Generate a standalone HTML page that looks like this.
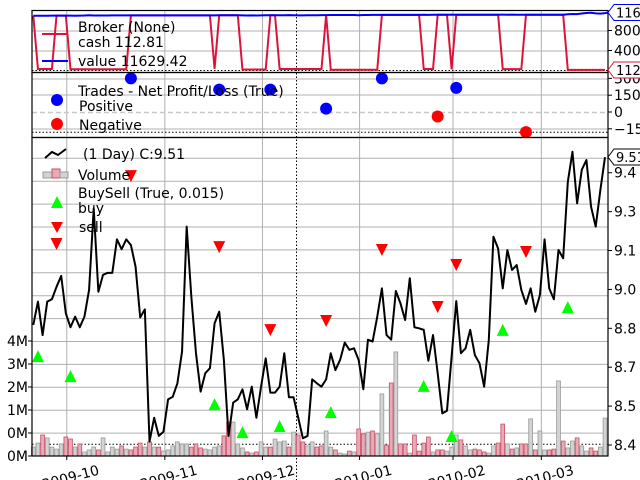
<!DOCTYPE html>
<html><head><meta charset="utf-8">
<style>
html,body{margin:0;padding:0;background:#fff;width:640px;height:480px;overflow:hidden;}
svg{display:block;font-family:"DejaVu Sans","Liberation Sans",sans-serif;}
</style></head>
<body>
<svg id="chart" width="640" height="480" viewBox="0 0 640 480" xmlns="http://www.w3.org/2000/svg"></svg>
<script>
const closes = [8.863,8.953,8.824,8.953,8.962,9.010,9.052,8.908,8.854,8.895,8.854,8.895,8.998,9.313,8.991,9.056,9.064,9.064,9.193,9.155,9.193,9.171,9.088,8.892,8.923,8.413,8.505,8.435,8.451,8.576,8.586,8.638,8.760,9.242,
8.972,8.754,8.606,8.677,8.696,8.869,8.914,8.728,8.435,8.563,8.576,8.615,8.538,8.625,8.505,8.625,8.734,8.602,8.602,8.625,8.754,8.584,8.584,8.505,8.426,8.435,8.653,8.638,8.625,8.653,8.754,8.689,
8.728,8.795,8.767,8.773,8.728,8.615,8.806,8.799,8.895,9.004,8.824,8.806,8.994,8.946,8.882,9.043,8.854,8.850,8.844,8.725,8.824,8.677,8.522,8.532,8.741,8.955,8.754,8.773,8.844,8.747,8.715,8.625,
8.805,9.203,9.158,9.004,9.152,9.075,9.094,8.998,8.944,9.004,8.914,8.979,9.193,9.004,8.962,9.152,9.120,9.415,9.531,9.332,9.461,9.499,9.319,9.242,9.383,9.51];
const volumes = [0.31,0.45,0.73,0.63,0.31,0.24,0.42,0.66,0.59,0.31,0.42,0.14,0.21,0.31,0.21,0.63,0.14,0.31,0.24,0.35,0.24,0.21,0.31,0.45,0.31,0.49,0.31,0.31,0.17,0.21,0.35,0.49,0.42,0.42,
0.31,0.42,0.28,0.24,0.21,0.31,0.35,0.70,1.18,1.18,0.42,0.28,0.14,0.10,0.14,0.49,0.31,0.31,0.59,0.49,0.52,0.31,0.83,0.73,0.49,0.35,0.49,0.31,0.35,0.87,0.31,0.21,
0.10,0.07,0.17,0.14,0.94,0.77,0.83,0.87,0.77,2.16,0.38,2.54,3.62,0.42,0.42,0.10,0.73,0.17,0.45,0.66,0.14,0.21,0.21,0.17,0.31,0.73,0.56,0.35,0.21,0.24,0.21,0.14,
0.10,0.35,0.45,1.11,0.42,0.24,0.28,0.42,0.42,1.29,0.21,0.87,0.21,0.21,0.24,2.61,0.52,0.28,0.52,0.63,0.35,0.17,0.28,0.17,0.31,1.32];
const cash = [10950,300,300,300,300,10980,10980,10980,250,250,250,250,250,250,250,250,250,250,250,250,250,
11020,11020,11020,11020,11020,11020,11020,11020,11020,11020,11020,11020,11020,11020,11020,11020,11020,11020,350,
11040,11040,11040,11040,11040,200,200,200,200,200,200,11050,11050,300,300,300,300,300,300,300,300,300,300,11080,
150,150,150,150,150,150,150,150,150,150,150,11130,11130,11130,11130,11130,11130,11130,11130,11130,300,300,300,
11150,11150,11150,250,11160,11160,11160,11160,11160,11160,11160,11160,11160,11160,280,280,280,280,280,
11140,11140,11140,11140,11140,11140,11140,11140,11140,112.81,112.81,112.81,112.81,112.81,112.81,112.81,112.81,112.81];
const value = [10950,10960,10940,10960,10970,10980,10980,10980,10970,10960,10970,10990,11050,10990,11000,11010,11010,11030,11020,11030,11020,
11020,11020,11020,11020,11020,11020,11020,11020,11020,11020,11020,11020,11020,11020,11020,11020,11020,11020,11030,
11040,11040,11040,11040,11040,11030,11010,11030,11000,11030,11050,11050,11050,11040,11050,11080,11060,11030,11020,11060,11060,11060,11080,11080,
11090,11090,11100,11100,11100,11090,11060,11100,11100,11120,11130,11130,11130,11130,11130,11130,11130,11130,11130,11130,11140,11120,11150,
11150,11150,11150,11170,11160,11160,11160,11160,11160,11160,11160,11160,11160,11160,11170,11160,11170,11150,11140,
11140,11140,11140,11140,11140,11140,11140,11140,11140,11250,11310,11270,11410,11500,11560,11420,11380,11480,11629];
const buyIdx = [1,8,39,45,53,64,84,90,101,115];
const buyPrice = [8.739,8.662,8.554,8.446,8.469,8.523,8.624,8.431,8.840,8.928];
const sellIdx = [5,21,40,51,63,75,87,91,106];
const sellPrice = [9.179,9.441,9.167,8.847,8.882,9.156,8.936,9.098,9.148];
const tradeIdx = [21,40,51,63,75,91,87,106];
const tradePnl = [300,200,200,30,300,215,-40,-180];
const monthIdx = [7.2,28.3,49.3,70.2,90.3,109.3];
const monthLabels = ["2009-10","2009-11","2009-12","2010-01","2010-02","2010-03"];
const priceTicks = [8.4,8.55,8.7,8.85,9.0,9.15,9.3,9.45];
const priceTickLabels = ["8.4","8.5","8.7","8.8","9.0","9.1","9.3","9.4"];
const volTicks = [0,0.8,1.6,2.4,3.2,4.0];
const volTickLabels = ["0M","0M","1M","2M","3M","4M"];
const brokerTicks = [4000,8000];
const brokerTickLabels = ["4000","8000"];
const tradeTicks = [-150,0,150,300];
const tradeTickLabels = ["\u2212150","0","150","300"];

const NS="http://www.w3.org/2000/svg";
const svg=document.getElementById('chart');
function mk(tag,attrs,parent){const e=document.createElementNS(NS,tag);for(const k in attrs)e.setAttribute(k,attrs[k]);(parent||svg).appendChild(e);return e;}
const L=32,R=608;
const xs=i=>33.3+i*(R-3-33.3)/(closes.length-1);
const py=p=>445-(p-8.4)*259.3;
const vy=v=>456-v*28.75;
const by=v=>70.5-v*0.005;
const ty=v=>112-v*16.8/150;

const g=mk('g',{});


monthIdx.forEach(m=>{mk('line',{x1:xs(m),x2:xs(m),y1:10,y2:456,stroke:'#b0b0b0','stroke-width':1},g);});
for(let k=1;k<=13;k++){const y=456-k*22.9;mk('line',{x1:L,x2:R,y1:y,y2:y,stroke:'#b0b0b0','stroke-width':1},g);}
[31,51].forEach(y=>mk('line',{x1:L,x2:R,y1:y,y2:y,stroke:'#b0b0b0','stroke-width':1},g));
[79,95,129].forEach(y=>mk('line',{x1:L,x2:R,y1:y,y2:y,stroke:'#b0b0b0','stroke-width':1},g));
mk('line',{x1:L,x2:R,y1:112.5,y2:112.5,stroke:'#c8c8c8','stroke-width':1.5,'stroke-dasharray':'5,3'},g);
mk('line',{x1:L,x2:R,y1:132.3,y2:132.3,stroke:'#000','stroke-width':1,'stroke-dasharray':'1.5,2'},g);
mk('line',{x1:L,x2:R,y1:70.5,y2:70.5,stroke:'#000','stroke-width':1,'stroke-dasharray':'1.5,2'},g);
mk('line',{x1:L,x2:R,y1:444.3,y2:444.3,stroke:'#000','stroke-width':1,'stroke-dasharray':'1.5,2'},g);
mk('line',{x1:296.5,x2:296.5,y1:10,y2:480,stroke:'#000','stroke-width':1,'stroke-dasharray':'1.5,2'},g);

const vg=mk('g',{});


volumes.forEach((v,i)=>{const down=i>0&&closes[i]<closes[i-1];const y=vy(v);
 const r=mk('rect',{x:xs(i)-1.9,y:y,width:3.8,height:456-y,fill:down?'#e8aab4':'#d3d3d3',stroke:down?'#c8506a':'#999','stroke-width':0.8},vg);
 
 });

const pl=mk('polyline',{points:closes.map((c,i)=>xs(i)+','+py(c)).join(' '),fill:'none',stroke:'#000','stroke-width':2,'stroke-linejoin':'round'});



buyIdx.forEach((b,i)=>{const x=xs(b),y=py(buyPrice[i]);const t=mk('polygon',{points:`${x-6},${y+5} ${x+6},${y+5} ${x},${y-7}`,fill:'#00ff00'});
 
 });
sellIdx.forEach((b,i)=>{const x=xs(b),y=py(sellPrice[i]);const t=mk('polygon',{points:`${x-6},${y-5} ${x+6},${y-5} ${x},${y+7}`,fill:'#ff0000'});
 
 });

const cl=mk('polyline',{points:cash.map((c,i)=>xs(i)+','+by(c)).join(' '),fill:'none',stroke:'#dc143c','stroke-width':2});


const vl=mk('polyline',{points:value.map((c,i)=>xs(i)+','+by(c)).join(' '),fill:'none',stroke:'#0000ff','stroke-width':2});



tradeIdx.forEach((t,i)=>{const c=mk('circle',{cx:xs(t),cy:ty(tradePnl[i]),r:6,fill:tradePnl[i]>=0?'#0000ff':'#ff0000'});
 
 });

[[10.5,72.5],[72.5,137.5],[137.5,456]].forEach(([a,b])=>{const r=mk('rect',{x:L,y:a,width:R-L,height:b-a,fill:'none',stroke:'#000','stroke-width':1.2});
 
 });

function txt(x,y,s,attrs,name){const t=mk('text',Object.assign({x:x,y:y,'font-size':14,fill:'#000'},attrs||{}));t.textContent=s;
 
 return t;}

priceTicks.forEach((p,i)=>{const y=py(p);mk('line',{x1:R,x2:R+4,y1:y,y2:y,stroke:'#000'});txt(614,y+5,priceTickLabels[i],{},'price-tick-label');});
brokerTicks.forEach((p,i)=>{const y=by(p);mk('line',{x1:R,x2:R+4,y1:y,y2:y,stroke:'#000'});txt(614,y+5,brokerTickLabels[i],{},'broker-tick-label');});
tradeTicks.forEach((p,i)=>{const y=ty(p);mk('line',{x1:R,x2:R+4,y1:y,y2:y,stroke:'#000'});txt(614,y+5,tradeTickLabels[i],{},'trade-tick-label');});
volTicks.forEach((v,i)=>{const y=vy(v);mk('line',{x1:L-4,x2:L,y1:y,y2:y,stroke:'#000'});txt(28,y+5,volTickLabels[i],{'text-anchor':'end'},'volume-tick-label');});
monthIdx.forEach((m,i)=>{const x=xs(m);mk('line',{x1:x,x2:x,y1:456,y2:460,stroke:'#000'});
 txt(x+4,482,monthLabels[i],{'text-anchor':'middle',transform:`rotate(-15 ${x+4} 478)`},'x-tick-label');});

function tag(y,s,col,name){const p=mk('path',{d:`M608,${y} L614,${y-8} L642,${y-8} L642,${y+8} L614,${y+8} Z`,fill:'#fff',stroke:col,'stroke-width':1});
 
 
 txt(616,y+5,s,{'font-size':13},name);}
tag(12.5,'11629',"#0000ff",'value-tag');
tag(70,'112.8',"#dc143c",'cash-tag');
tag(157,'9.51',"#000",'close-tag');
</script>
<svg style="position:absolute;left:0;top:0" width="640" height="480" font-family="DejaVu Sans, Liberation Sans, sans-serif">
 <g font-size="14">
  <text x="78" y="32">Broker (None)</text>
  <line x1="42" x2="68" y1="34" y2="34" stroke="#dc143c" stroke-width="2"/>
  <text x="78" y="47">cash 112.81</text>
  <line x1="42" x2="68" y1="61" y2="61" stroke="#0000ff" stroke-width="2"/>
  <text x="78" y="66">value 11629.42</text>
 </g>
 <g font-size="14">
  <text x="78" y="96">Trades - Net Profit/Loss (True)</text>
  <circle cx="57" cy="100" r="6" fill="#0000ff"/>
  <text x="79" y="111">Positive</text>
  <circle cx="57" cy="124" r="6" fill="#ff0000"/>
  <text x="79" y="130">Negative</text>
 </g>
 <g font-size="14">
  <polyline points="45,158 52,152 58,155 66,149" fill="none" stroke="#000" stroke-width="2"/>
  <text x="83" y="159">(1 Day) C:9.51</text>
  <rect x="43" y="172" width="9" height="6" fill="#d3d3d3" stroke="#999"/>
  <rect x="52" y="169" width="8" height="9" fill="#e8aab4" stroke="#c8506a"/>
  <rect x="60" y="172" width="8" height="6" fill="#d3d3d3" stroke="#999"/>
  <text x="78" y="180">Volume</text>
  <text x="78" y="198">BuySell (True, 0.015)</text>
  <polygon points="51,208 63,208 57,196" fill="#00ff00"/>
  <text x="78" y="213">buy</text>
  <polygon points="51,222 63,222 57,233" fill="#ff0000"/>
  <text x="79" y="232">sell</text>
 </g>
</svg>
</body></html>
